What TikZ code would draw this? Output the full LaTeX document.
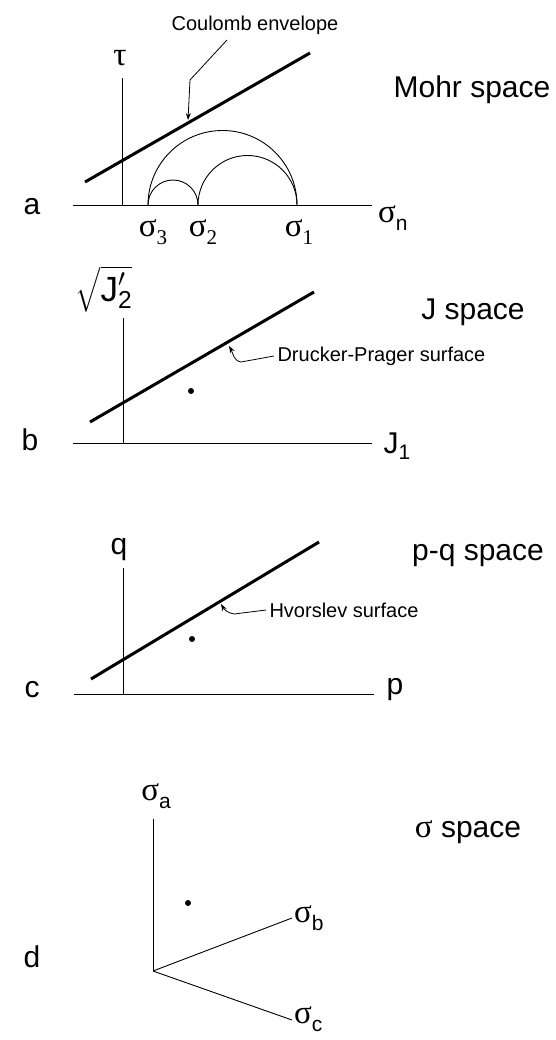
\documentclass[tikz,border=0pt]{standalone}
\usepackage{amsmath}
\usepackage{fontspec}
\setmainfont{Liberation Sans}
\newfontfamily\grkfont{Liberation Serif}
\usetikzlibrary{arrows.meta}

% sigma con pedice
\newcommand{\sgm}[1]{{\grkfont σ}\raisebox{-0.25em}{\fontsize{21}{21}\selectfont #1}}
\newcommand{\sgmd}[1]{\sgm{\grkfont #1}}

\begin{document}
\begin{tikzpicture}[x=1pt,y=-1pt,
  axis/.style={line width=0.9pt},
  envelope/.style={line width=3pt},
  leader/.style={line width=0.8pt, -{Stealth[length=7pt,width=5pt]}},
  biglbl/.style={font=\fontsize{30}{34}\selectfont},
  sglbl/.style={font=\fontsize{33}{36}\selectfont, inner sep=1pt},
  notelbl/.style={font=\fontsize{20}{24}\selectfont},
  stressdot/.style={circle, fill, inner sep=0pt, minimum size=6pt}]

% Riquadro
\useasboundingbox (0,0) rectangle (556,1040);

% ---- a: spazio di Mohr ----
\node[biglbl] (lblA) at (32,207) {a};
\node[biglbl] (mohr) at (472,90) {Mohr space};
\coordinate (aO) at (122,205);
\coordinate (aTop) at (122,78);
\coordinate (aLeft) at (73,205);
\coordinate (aRight) at (372,205);
\draw[axis] (aLeft) -- (aRight);
\draw[axis] (aO) -- (aTop);
\node[sglbl] (tau) at (120,58) {\grkfont τ};
\node[sglbl, anchor=west] (sigN) at (377,218) {\sgm{n}};

% Cerchi di Mohr
\draw[axis] (148,205) arc[start angle=180, end angle=360, radius=74.5];
\draw[axis] (148,205) arc[start angle=180, end angle=360, radius=25];
\draw[axis] (198,205) arc[start angle=180, end angle=360, radius=49.5];
\node[sglbl] (sig3) at (153,232) {\sgmd{3}};
\node[sglbl] (sig2) at (203,232) {\sgmd{2}};
\node[sglbl] (sig1) at (299,232) {\sgmd{1}};

% Inviluppo di Coulomb
\coordinate (cStart) at (85,182);
\coordinate (cEnd) at (310,53);
\draw[envelope] (cStart) -- (cEnd);
\node[notelbl] (coulomb) at (255,25) {Coulomb envelope};
\coordinate (cBend) at (190,80);
\coordinate (cTip) at (188,120);
\draw[leader] (227,40) -- (cBend) -- (cTip);

% ---- b: spazio J ----
\node[biglbl] (lblB) at (30,440) {b};
\node[biglbl] (jspace) at (473,312) {J space};
\coordinate (bO) at (123,443);
\draw[axis] (73,443) -- (372,443);
\draw[axis] (bO) -- (123,318);
\node[font=\fontsize{35}{38}\selectfont] (sqJ) at (104,289) {$\sqrt{\text{J}'_{\text{2}}}$};
\node[biglbl, anchor=west] (J1) at (380,446) {J$_{\text{1}}$};
\draw[envelope] (90,422) -- (314,292);
\node[stressdot] (bDot) at (191,391) {};
\node[notelbl, anchor=west] (drucker) at (274,356) {Drucker-Prager surface};
\draw[leader] (drucker.west) -- (241,362) to[out=170, in=-60] (229,346);

% ---- c: spazio p-q ----
\node[biglbl] (lblC) at (32,690) {c};
\node[biglbl] (pqspace) at (478,556) {p-q space};
\coordinate (cO) at (123,694);
\draw[axis] (74,694) -- (374,694);
\draw[axis] (cO) -- (123,568);
\node[biglbl] (qlbl) at (119,550) {q};
\node[biglbl, anchor=west] (plbl) at (383,690) {p};
\draw[envelope] (91,679) -- (319,542);
\node[stressdot] (cDot) at (192,639) {};
\node[notelbl, anchor=west] (hvorslev) at (266,610) {Hvorslev surface};
\draw[leader] (hvorslev.west) -- (234,614) to[out=170, in=-60] (221,604);

% ---- d: spazio delle tensioni ----
\node[biglbl] (lblD) at (32,957) {d};
\node[biglbl] (sspace) at (468,832) {{\grkfont\fontsize{33}{36}\selectfont σ} space};
\coordinate (dO) at (153,971);
\coordinate (dA) at (153,819);
\coordinate (dB) at (292,918);
\coordinate (dC) at (292,1020);
\draw[axis] (dO) -- (dA);
\draw[axis] (dO) -- (dB);
\draw[axis] (dO) -- (dC);
\node[sglbl] (sigA) at (156,796) {\sgm{a}};
\node[sglbl, anchor=west] (sigB) at (293,918) {\sgm{b}};
\node[sglbl, anchor=west] (sigC) at (293,1019) {\sgm{c}};
\node[stressdot] (dDot) at (188,903) {};

\end{tikzpicture}
\end{document}
